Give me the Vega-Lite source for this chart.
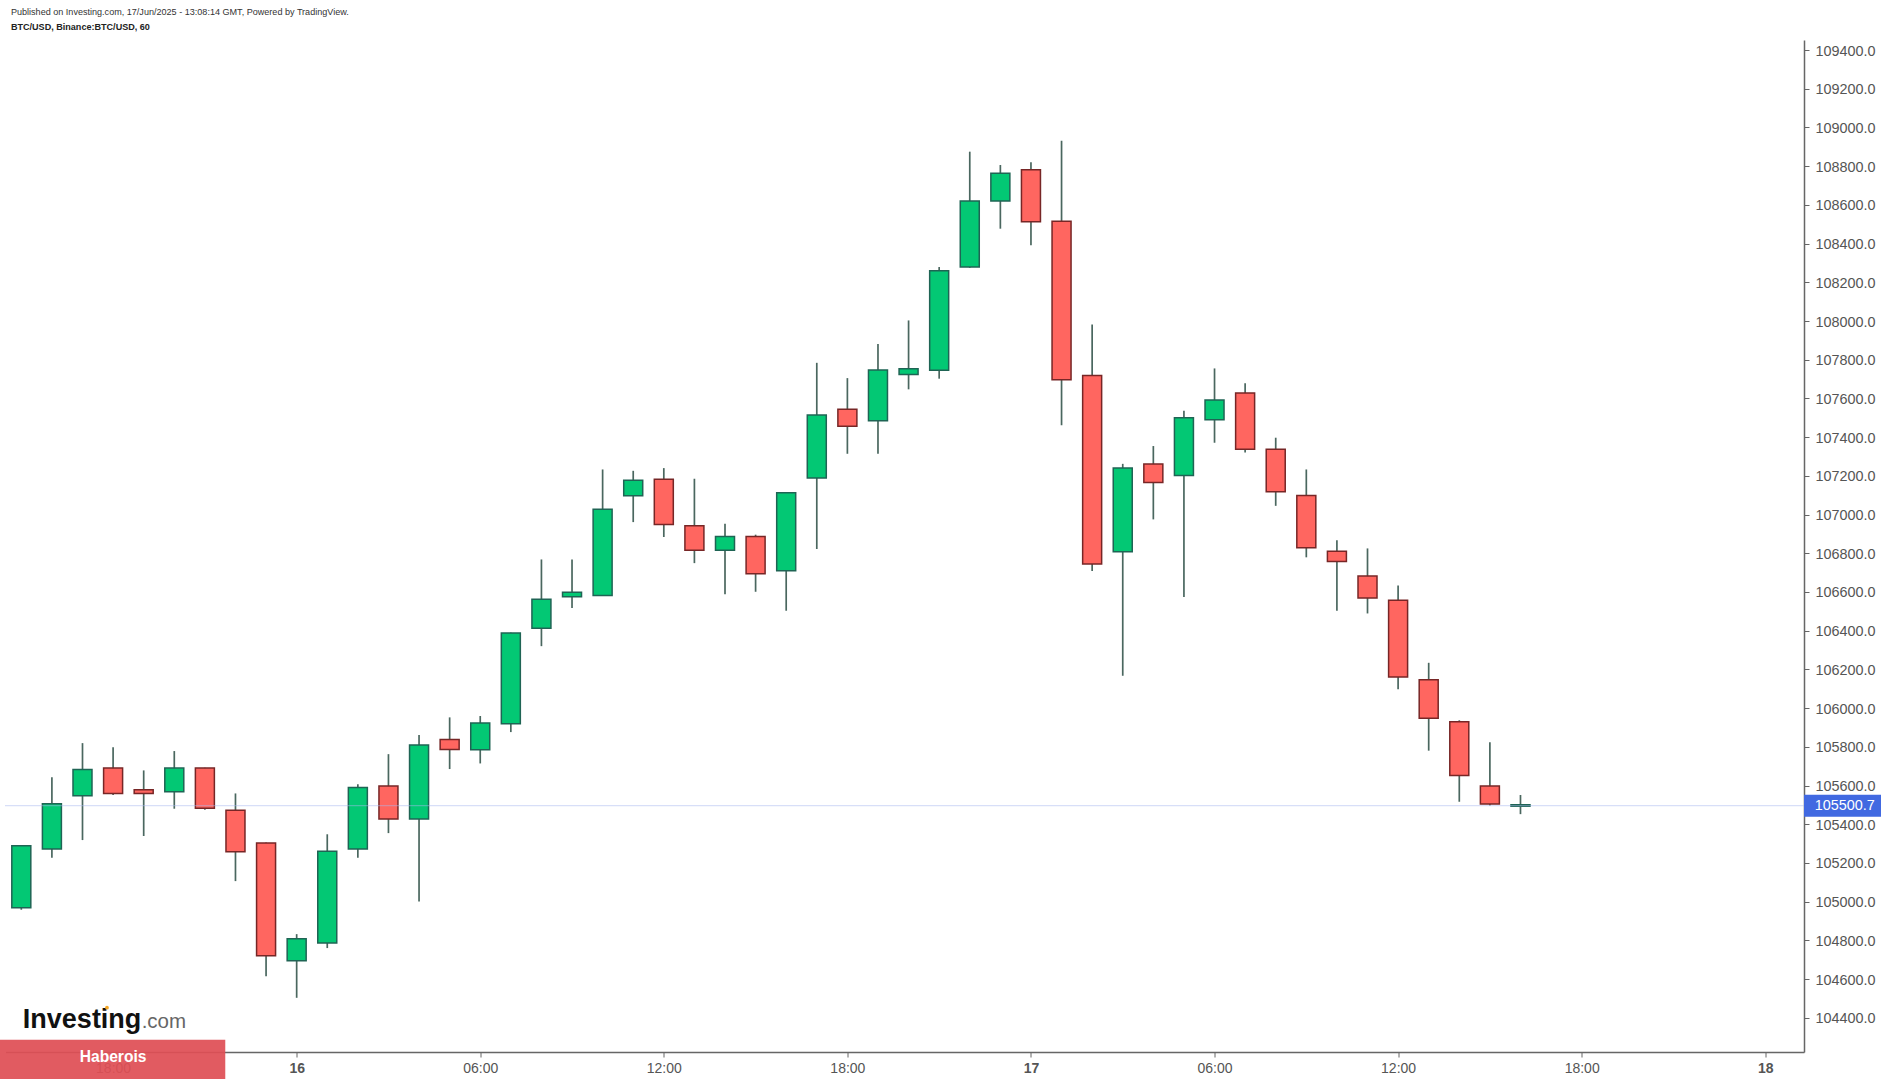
{
"$schema":"https://vega.github.io/schema/vega-lite/v6.json",
"width":1798.5,"height":1012,
"autosize":{"type":"none"},
"padding":{"left":5.5,"top":40,"right":82,"bottom":28},
"background":"#ffffff",
"config":{"view":{"stroke":null},"font":"Liberation Sans","text":{"font":"Liberation Sans"}},
"datasets":{"candles":[
{"time":"2025-06-15T15:00:00Z","open":104968,"high":105289,"low":104958,"close":105289},
{"time":"2025-06-15T16:00:00Z","open":105272,"high":105642,"low":105227,"close":105506},
{"time":"2025-06-15T17:00:00Z","open":105547,"high":105819,"low":105318,"close":105683},
{"time":"2025-06-15T18:00:00Z","open":105690,"high":105797,"low":105551,"close":105559},
{"time":"2025-06-15T19:00:00Z","open":105578,"high":105678,"low":105339,"close":105559},
{"time":"2025-06-15T20:00:00Z","open":105568,"high":105778,"low":105480,"close":105690},
{"time":"2025-06-15T21:00:00Z","open":105690,"high":105692,"low":105475,"close":105482},
{"time":"2025-06-15T22:00:00Z","open":105472,"high":105559,"low":105106,"close":105258},
{"time":"2025-06-15T23:00:00Z","open":105303,"high":105305,"low":104614,"close":104720},
{"time":"2025-06-16T00:00:00Z","open":104694,"high":104832,"low":104503,"close":104808},
{"time":"2025-06-16T01:00:00Z","open":104786,"high":105348,"low":104760,"close":105260},
{"time":"2025-06-16T02:00:00Z","open":105272,"high":105607,"low":105227,"close":105590},
{"time":"2025-06-16T03:00:00Z","open":105597,"high":105762,"low":105354,"close":105427},
{"time":"2025-06-16T04:00:00Z","open":105427,"high":105861,"low":105001,"close":105809},
{"time":"2025-06-16T05:00:00Z","open":105838,"high":105952,"low":105685,"close":105786},
{"time":"2025-06-16T06:00:00Z","open":105785,"high":105959,"low":105714,"close":105923},
{"time":"2025-06-16T07:00:00Z","open":105919,"high":106390,"low":105876,"close":106388},
{"time":"2025-06-16T08:00:00Z","open":106413,"high":106768,"low":106320,"close":106563},
{"time":"2025-06-16T09:00:00Z","open":106575,"high":106768,"low":106517,"close":106598},
{"time":"2025-06-16T10:00:00Z","open":106582,"high":107233,"low":106580,"close":107028},
{"time":"2025-06-16T11:00:00Z","open":107097,"high":107226,"low":106961,"close":107177},
{"time":"2025-06-16T12:00:00Z","open":107183,"high":107240,"low":106884,"close":106949},
{"time":"2025-06-16T13:00:00Z","open":106942,"high":107185,"low":106749,"close":106815},
{"time":"2025-06-16T14:00:00Z","open":106815,"high":106952,"low":106588,"close":106887},
{"time":"2025-06-16T15:00:00Z","open":106887,"high":106896,"low":106601,"close":106694},
{"time":"2025-06-16T16:00:00Z","open":106710,"high":107115,"low":106503,"close":107113},
{"time":"2025-06-16T17:00:00Z","open":107189,"high":107784,"low":106822,"close":107514},
{"time":"2025-06-16T18:00:00Z","open":107544,"high":107705,"low":107314,"close":107456},
{"time":"2025-06-16T19:00:00Z","open":107485,"high":107881,"low":107314,"close":107747},
{"time":"2025-06-16T20:00:00Z","open":107724,"high":108003,"low":107647,"close":107753},
{"time":"2025-06-16T21:00:00Z","open":107745,"high":108279,"low":107702,"close":108260},
{"time":"2025-06-16T22:00:00Z","open":108279,"high":108875,"low":108275,"close":108620},
{"time":"2025-06-16T23:00:00Z","open":108620,"high":108806,"low":108477,"close":108763},
{"time":"2025-06-17T00:00:00Z","open":108782,"high":108820,"low":108392,"close":108513},
{"time":"2025-06-17T01:00:00Z","open":108516,"high":108931,"low":107462,"close":107696},
{"time":"2025-06-17T02:00:00Z","open":107719,"high":107982,"low":106708,"close":106744},
{"time":"2025-06-17T03:00:00Z","open":106808,"high":107262,"low":106167,"close":107240},
{"time":"2025-06-17T04:00:00Z","open":107261,"high":107354,"low":106975,"close":107166},
{"time":"2025-06-17T05:00:00Z","open":107202,"high":107536,"low":106574,"close":107500},
{"time":"2025-06-17T06:00:00Z","open":107490,"high":107755,"low":107371,"close":107592},
{"time":"2025-06-17T07:00:00Z","open":107628,"high":107679,"low":107321,"close":107337},
{"time":"2025-06-17T08:00:00Z","open":107338,"high":107397,"low":107045,"close":107118},
{"time":"2025-06-17T09:00:00Z","open":107099,"high":107233,"low":106779,"close":106828},
{"time":"2025-06-17T10:00:00Z","open":106810,"high":106867,"low":106503,"close":106758},
{"time":"2025-06-17T11:00:00Z","open":106682,"high":106825,"low":106489,"close":106569},
{"time":"2025-06-17T12:00:00Z","open":106557,"high":106634,"low":106097,"close":106160},
{"time":"2025-06-17T13:00:00Z","open":106146,"high":106234,"low":105780,"close":105948},
{"time":"2025-06-17T14:00:00Z","open":105929,"high":105937,"low":105516,"close":105652},
{"time":"2025-06-17T15:00:00Z","open":105597,"high":105824,"low":105497,"close":105504},
{"time":"2025-06-17T16:00:00Z","open":105493,"high":105551,"low":105452,"close":105500.7}
]},
"layer":[
{"data":{"name":"candles"},
 "mark":{"type":"rule","color":"#4a675f","strokeWidth":1.7},
 "encoding":{
  "x":{"field":"time","type":"temporal","title":null,
   "scale":{"type":"utc","padding":0,"domain":[{"year":2025,"month":6,"date":15,"hours":14,"minutes":29,"utc":true},{"year":2025,"month":6,"date":18,"hours":1,"minutes":16,"utc":true}]},
   "axis":{"values":[
     {"year":2025,"month":6,"date":15,"hours":18,"utc":true},
     {"year":2025,"month":6,"date":16,"hours":0,"utc":true},
     {"year":2025,"month":6,"date":16,"hours":6,"utc":true},
     {"year":2025,"month":6,"date":16,"hours":12,"utc":true},
     {"year":2025,"month":6,"date":16,"hours":18,"utc":true},
     {"year":2025,"month":6,"date":17,"hours":0,"utc":true},
     {"year":2025,"month":6,"date":17,"hours":6,"utc":true},
     {"year":2025,"month":6,"date":17,"hours":12,"utc":true},
     {"year":2025,"month":6,"date":17,"hours":18,"utc":true},
     {"year":2025,"month":6,"date":18,"hours":0,"utc":true}],
    "labelExpr":"utchours(datum.value)===0 ? utcFormat(datum.value,'%-d') : utcFormat(datum.value,'%H:%M')",
    "labelFontWeight":{"condition":{"test":"utchours(datum.value)===0","value":"bold"},"value":"normal"},
    "labelFont":"Liberation Sans","labelFontSize":14,"labelColor":"#555555","labelPadding":4,"labelOverlap":false,"labelFlush":false,"labelBound":false,
    "grid":false,"domainColor":"#666666","domainWidth":1.5,"tickColor":"#666666","tickSize":5,"tickWidth":1}},
  "y":{"field":"low","type":"quantitative","title":null,
   "scale":{"domain":[104223,109452],"nice":false,"zero":false},
   "axis":{"orient":"right","values":[104400,104600,104800,105000,105200,105400,105600,105800,106000,106200,106400,106600,106800,107000,107200,107400,107600,107800,108000,108200,108400,108600,108800,109000,109200,109400],
    "format":".1f","labelFont":"Liberation Sans","labelFontSize":14.4,"labelColor":"#555555","labelPadding":6,"labelOffset":1,"labelOverlap":false,"labelBound":false,"labelFlush":false,
    "grid":false,"domainColor":"#666666","domainWidth":1.5,"tickColor":"#666666","tickSize":5,"tickWidth":1}},
  "y2":{"field":"high"}}},
{"data":{"name":"candles"},
 "mark":{"type":"bar","size":19,"strokeWidth":1.5},
 "encoding":{
  "x":{"field":"time","type":"temporal","title":null,"scale":{"padding":0}},
  "y":{"field":"open","type":"quantitative","title":null},
  "y2":{"field":"close"},
  "fill":{"condition":{"test":"datum.close>=datum.open","value":"#03c874"},"value":"#ff6660"},
  "stroke":{"condition":{"test":"datum.close>=datum.open","value":"#1f6454"},"value":"#772626"}}},
{"data":{"values":[{"time":"2025-06-15T14:29:00Z","end":"2025-06-18T01:16:00Z","price":105500.7}]},
 "mark":{"type":"rule","color":"#aab8f0","strokeWidth":1.3,"strokeDash":[1,1],"opacity":0.9,"yOffset":1},
 "encoding":{
  "x":{"field":"time","type":"temporal","title":null},
  "x2":{"field":"end"},
  "y":{"field":"price","type":"quantitative","title":null}}},
{"data":{"values":[{"time":"2025-06-18T01:16:00Z","end":"2025-06-18T03:47:00Z","price":105500.7}]},
 "mark":{"type":"rule","color":"#4169e1","strokeWidth":22,"yOffset":1},
 "encoding":{
  "x":{"field":"time","type":"temporal","title":null},
  "x2":{"field":"end"},
  "y":{"field":"price","type":"quantitative","title":null}}},
{"data":{"values":[{"time":"2025-06-15T14:18:00Z","end":"2025-06-15T21:40:00Z","price":104286,"price2":104083}]},
 "mark":{"type":"rect","color":"#df4f55","opacity":0.93},
 "encoding":{
  "x":{"field":"time","type":"temporal","title":null},
  "x2":{"field":"end"},
  "y":{"field":"price","type":"quantitative","title":null},
  "y2":{"field":"price2"}}},
{"data":{"values":[{"time":"2025-06-18T01:37:00Z","price":105500.7,"label":"105500.7"}]},
 "mark":{"type":"text","align":"left","baseline":"middle","fontSize":14.4,"color":"#ffffff","font":"Liberation Sans","yOffset":1},
 "encoding":{
  "x":{"field":"time","type":"temporal","title":null},
  "y":{"field":"price","type":"quantitative","title":null},
  "text":{"field":"label"}}},
{"data":{"values":[{"time":"2025-06-15T18:00:00Z","price":104198,"label":"Haberois"}]},
 "mark":{"type":"text","align":"center","baseline":"middle","fontSize":15.6,"fontWeight":"bold","color":"#ffffff","font":"Liberation Sans"},
 "encoding":{
  "x":{"field":"time","type":"temporal","title":null},
  "y":{"field":"price","type":"quantitative","title":null},
  "text":{"field":"label"}}},
{"data":{"values":[{"time":"2025-06-15T14:39:36Z","price":109581,"label":"Published on Investing.com, 17/Jun/2025 - 13:08:14 GMT, Powered by TradingView."}]},
 "mark":{"type":"text","align":"left","baseline":"alphabetic","fontSize":9.07,"color":"#333333","font":"Liberation Sans"},
 "encoding":{
  "x":{"field":"time","type":"temporal","title":null},
  "y":{"field":"price","type":"quantitative","title":null},
  "text":{"field":"label"}}},
{"data":{"values":[{"time":"2025-06-15T14:39:36Z","price":109503,"label":"BTC/USD, Binance:BTC/USD, 60"}]},
 "mark":{"type":"text","align":"left","baseline":"alphabetic","fontSize":9.07,"fontWeight":"bold","color":"#222222","font":"Liberation Sans"},
 "encoding":{
  "x":{"field":"time","type":"temporal","title":null},
  "y":{"field":"price","type":"quantitative","title":null},
  "text":{"field":"label"}}},
{"data":{"values":[{"time":"2025-06-15T15:03:00Z","price":104347,"label":"Investing"}]},
 "mark":{"type":"text","align":"left","baseline":"alphabetic","fontSize":27,"fontWeight":"bold","color":"#111111","font":"Liberation Sans"},
 "encoding":{
  "x":{"field":"time","type":"temporal","title":null},
  "y":{"field":"price","type":"quantitative","title":null},
  "text":{"field":"label"}}},
{"data":{"values":[{"time":"2025-06-15T18:56:00Z","price":104347,"label":".com"}]},
 "mark":{"type":"text","align":"left","baseline":"alphabetic","fontSize":20.5,"color":"#666666","font":"Liberation Sans"},
 "encoding":{
  "x":{"field":"time","type":"temporal","title":null},
  "y":{"field":"price","type":"quantitative","title":null},
  "text":{"field":"label"}}},
{"data":{"values":[{"time":"2025-06-15T17:48:00Z","price":104452}]},
 "mark":{"type":"point","filled":true,"size":14,"color":"#f5a623","opacity":1},
 "encoding":{
  "x":{"field":"time","type":"temporal","title":null},
  "y":{"field":"price","type":"quantitative","title":null}}}
]
}
